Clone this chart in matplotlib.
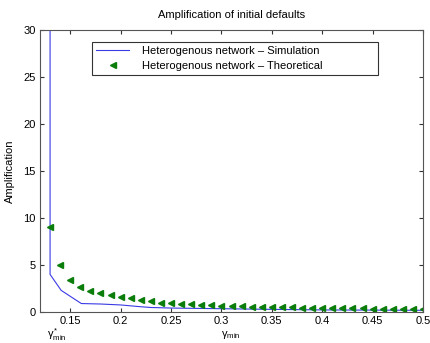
import numpy as np
import matplotlib.pyplot as plt

plt.rcParams['font.family'] = ['Liberation Sans', 'DejaVu Sans']
plt.rcParams['mathtext.fontset'] = 'custom'
plt.rcParams['mathtext.rm'] = 'Liberation Sans'
plt.rcParams['mathtext.it'] = 'Liberation Sans'

# simulation curve (gamma_min, amplification)
sim_gamma = [0.13, 0.13, 0.141, 0.161, 0.18, 0.20, 0.22, 0.23, 0.25, 0.30, 0.35, 0.40, 0.45, 0.50]
sim_amp = [45.0, 4.0, 2.3, 0.9, 0.85, 0.75, 0.56, 0.48, 0.42, 0.35, 0.28, 0.22, 0.2, 0.18]

# theoretical points
theo_gamma = [round(0.13 + 0.01 * i, 2) for i in range(38)]
theo_amp = [9.0, 5.0, 3.45, 2.7, 2.2, 2.0, 1.8, 1.6, 1.45, 1.28, 1.12, 1.0,
            0.92, 0.86, 0.80, 0.75, 0.70, 0.66, 0.63, 0.60, 0.57, 0.55,
            0.52, 0.50, 0.48, 0.46, 0.44, 0.43, 0.41, 0.40, 0.39, 0.38,
            0.37, 0.36, 0.35, 0.34, 0.33, 0.32]

x_ticks = [0.15, 0.2, 0.25, 0.3, 0.35, 0.4, 0.45, 0.5]
x_labels = ['0.15', '0.2', '0.25', '0.3', '0.35', '0.4', '0.45', '0.5']
y_ticks = [0, 5, 10, 15, 20, 25, 30]

fig = plt.figure(figsize=(4.30, 3.43), dpi=100)
ax = fig.add_axes([40 / 430, 31 / 343, 383 / 430, 282 / 343])

ax.plot(sim_gamma, sim_amp, color='#3a3ae6', linewidth=0.8,
        label='Heterogenous network – Simulation')
ax.plot(theo_gamma, theo_amp, linestyle='none', marker='<', markersize=5,
        color='#0a7d0a', markeredgecolor='#0a7d0a',
        label='Heterogenous network – Theoretical')

ax.set_xlim(0.12, 0.5)
ax.set_ylim(0, 30)
ax.set_xticks(x_ticks)
ax.set_xticklabels(x_labels)
ax.set_yticks(y_ticks)
ax.tick_params(direction='in', length=3, labelsize=8, top=True, right=True,
               color='#333333', pad=3)
for sp in ax.spines.values():
    sp.set_color('#555555')
    sp.set_linewidth(0.8)

ax.set_title('Amplification of initial defaults', fontsize=8, pad=9)
ax.set_ylabel('Amplification', fontsize=8, labelpad=6)

ax.text(0.137, -0.08, r'γ$^*_{\mathrm{min}}$', transform=ax.get_xaxis_transform(),
        ha='center', va='center', fontsize=8)
ax.text(0.309, -0.08, r'γ$_{\mathrm{min}}$', transform=ax.get_xaxis_transform(),
        ha='center', va='center', fontsize=8)

leg = ax.legend(loc='upper left', bbox_to_anchor=(0.136, 0.833, 0.747, 0.124),
                mode='expand', borderaxespad=0, fontsize=8,
                frameon=True, fancybox=False, edgecolor='black',
                borderpad=0.35, handlelength=3.0, handletextpad=1.1,
                labelspacing=0.45)
leg.get_frame().set_linewidth(0.8)

fig.savefig('out.png', dpi=100)
